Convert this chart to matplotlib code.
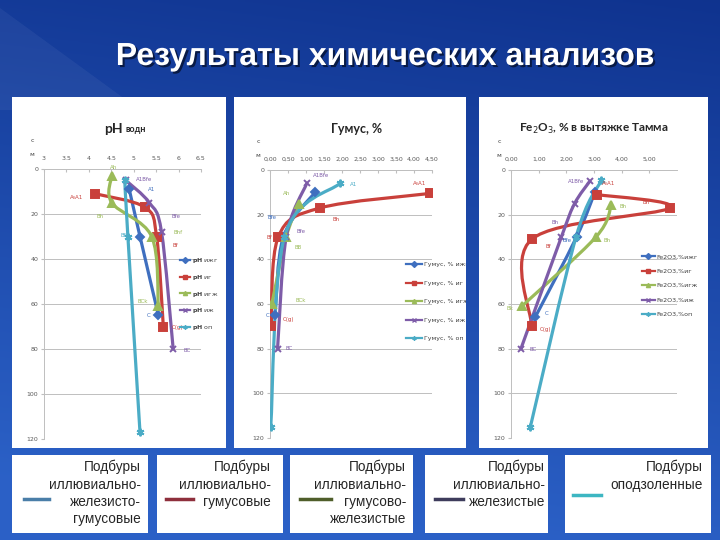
import numpy as np
import matplotlib.pyplot as plt
import matplotlib.patheffects as pe
from matplotlib.path import Path
from matplotlib.patches import PathPatch, Rectangle, Polygon
from matplotlib.lines import Line2D

# --- data (depth, cm; value) ---
soil_codes = ["ижг", "иг", "игж", "иж", "оп"]
soil_names = ["Подбуры\nиллювиально-\nжелезисто-\nгумусовые",
              "Подбуры\nиллювиально-\nгумусовые",
              "Подбуры\nиллювиально-\nгумусово-\nжелезистые",
              "Подбуры\nиллювиально-\nжелезистые",
              "Подбуры\nоподзоленные"]

# pH водн
ph_depth = [[9, 30, 65], [11, 17, 30, 70], [3, 15, 30, 61], [5, 15, 28, 80], [5, 30, 117]]
ph_vals = [[4.9, 5.14, 5.55], [4.14, 5.25, 5.51, 5.66], [4.51, 4.51, 5.40, 5.55],
           [4.82, 5.35, 5.62, 5.88], [4.80, 4.87, 5.14]]

# Гумус, %
hum_depth = [[10, 30, 65], [10.5, 17, 30, 70], [15, 30, 60], [6, 30, 80], [6, 30, 115]]
hum_vals = [[1.25, 0.37, 0.14], [4.44, 1.39, 0.23, 0.03], [0.8, 0.45, 0.05],
            [1.02, 0.45, 0.21], [1.94, 0.40, 0.02]]

# Fe2O3, % в вытяжке Тамма
fe_depth = [[10, 30, 66], [11, 17, 31, 70], [15.6, 30, 61], [5, 15, 30, 80], [4.5, 30, 115]]
fe_vals = [[3.03, 2.37, 0.87], [3.12, 5.74, 0.75, 0.75], [3.63, 3.07, 0.39],
           [2.85, 2.30, 1.82, 0.36], [3.27, 2.35, 0.70]]

# horizon labels: (series, point, text, dx px, dy px, ha)
ph_labels = [(0, 0, "A1", 19, 0, "left"), (3, 0, "A1Bfe", 10, 1, "left"),
             (2, 0, "Ah", 2, 8, "center"), (1, 0, "A₀A1", -12, -4, "right"),
             (2, 1, "Bh", -12, -14, "center"), (3, 2, "Bfe", 10, 15, "left"),
             (2, 2, "Bhf", 22, 4, "left"), (4, 1, "Bfe", -3, 1, "center"),
             (1, 2, "Bf", 16, -9, "left"), (2, 3, "BCk", -10, 5, "right"),
             (0, 2, "C", -8, 0, "right"), (1, 3, "C(g)", 8, -1, "left"),
             (3, 3, "BC", 10, -1, "left")]
hum_labels = [(1, 0, "A₀A1", -10, 10, "center"), (4, 0, "A1", 10, -1, "left"),
              (3, 0, "A1Bfe", 6, 8, "left"), (2, 0, "Ah", -12, 10, "center"),
              (1, 1, "Bh", 12, -12, "left"), (0, 1, "Bfe", -16, 20, "left"),
              (1, 2, "Bf", -6, 0, "right"), (3, 1, "Bfe", 10, 6, "left"),
              (2, 1, "BB", 8, -10, "left"), (2, 2, "BCk", 24, 4, "left"),
              (0, 2, "C", -6, 0, "right"), (1, 3, "C(g)", 12, 7, "left"),
              (3, 2, "BC", 8, 0, "left")]
fe_labels = [(3, 0, "A1Bfe", -6, 0, "right"), (1, 0, "A₀A1", 5, 11, "left"),
             (1, 1, "Bh", -24, 5, "center"), (2, 0, "Bh", 8, -2, "left"),
             (3, 1, "Bh", -20, -19, "center"), (0, 1, "Bfe", -5, -3, "right"),
             (1, 2, "Bf", 14, -7, "left"), (2, 1, "Bh", 8, -3, "left"),
             (2, 2, "Bk", -8, -2, "right"), (0, 2, "C", 10, 4, "left"),
             (1, 3, "C(g)", 8, -3, "left"), (3, 3, "BC", 9, -1, "left")]

colors = ["#3F6FBF", "#C9403B", "#9BBB59", "#7E5CA8", "#4BACC6"]
markers = ["D", "s", "^", "x", (6, 2, 0)]
msizes = [4.5, 6, 6, 5, 5.5]
box_line_colors = ["#4A7EA8", "#8E2F3C", "#4F5E2A", "#3E3C5C", "#3DB6C2"]

W, H = 720, 540
fig = plt.figure(figsize=(7.2, 5.4), dpi=100)


def frac(x0, y0, x1, y1):
    return [x0 / W, 1 - y1 / H, (x1 - x0) / W, (y1 - y0) / H]


# background: dark navy at the top, brighter blue lower down
bg = fig.add_axes([0, 0, 1, 1], zorder=-10)
gy, gx = np.mgrid[0:1:200j, 0:1:200j]
top = np.array([0.06, 0.20, 0.56])
bot = np.array([0.17, 0.38, 0.78])
t = np.clip((0.85 * gy + 0.15 * (1 - gx)) * 1.1, 0, 1)[..., None]
bg.imshow(top * (1 - t) + bot * t, aspect="auto", extent=[0, W, H, 0])
bg.add_patch(Polygon([(0, 8), (0, 110), (140, 110)], closed=True, facecolor="white",
                     alpha=0.05, edgecolor="none"))
bg.set_xlim(0, W); bg.set_ylim(H, 0)
bg.axis("off")

fig.text(386 / W, 1 - 57 / H, "Результаты химических анализов", color="white",
         fontsize=23, fontweight="bold", family="Liberation Sans", ha="center", va="center",
         path_effects=[pe.withSimplePatchShadow(offset=(1.5, -1.5), shadow_rgbFace="#061230", alpha=0.8)])


def smooth_path(xs, ys):
    pts = np.column_stack([xs, ys]).astype(float)
    n = len(pts)
    verts, codes = [pts[0]], [Path.MOVETO]
    for i in range(n - 1):
        p0 = pts[i - 1] if i > 0 else pts[i]
        p1, p2 = pts[i], pts[i + 1]
        p3 = pts[i + 2] if i + 2 < n else pts[i + 1]
        verts += [p1 + (p2 - p0) / 6, p2 - (p3 - p1) / 6, p2]
        codes += [Path.CURVE4] * 3
    return Path(verts, codes)


def draw_panel(panel_box, ax_box, depths, vals, xlim, xticks, xticklabels, labels,
               legend_names, leg_pos, leg_spacing, leg_handlelen):
    panel = fig.add_axes(frac(*panel_box))
    panel.set_facecolor("white")
    panel.set_xticks([]); panel.set_yticks([])
    for s in panel.spines.values():
        s.set_visible(False)

    ax = fig.add_axes(frac(*ax_box))
    ax.set_facecolor("none")
    ax.set_xlim(*xlim)
    ax.set_ylim(120, 0)
    ax.set_yticks(range(0, 121, 20))
    ax.xaxis.tick_top()
    ax.set_xticks(xticks)
    ax.set_xticklabels(xticklabels)
    ax.tick_params(axis="x", direction="in", length=2, pad=6, labelsize=4.5,
                   labelcolor="#595959", color="#BFBFBF")
    ax.tick_params(axis="y", direction="out", length=2, pad=2, labelsize=4.5,
                   labelcolor="#595959", color="#BFBFBF")
    ax.grid(axis="y", color="#BFBFBF", lw=0.7)
    for side in ["right", "bottom"]:
        ax.spines[side].set_visible(False)
    for side in ["left", "top"]:
        ax.spines[side].set_color("#BFBFBF")
        ax.spines[side].set_linewidth(0.7)

    for i in range(len(depths)):
        ax.add_patch(PathPatch(smooth_path(vals[i], depths[i]), fill=False,
                               edgecolor=colors[i], lw=2.3, zorder=3 + i * 0.1))
        ax.plot(vals[i], depths[i], ls="none", marker=markers[i], ms=msizes[i],
                color=colors[i], mew=1.4, zorder=4 + i * 0.1)

    for si, pi, txt, dx, dy, ha in labels:
        ax.annotate(txt, (vals[si][pi], depths[si][pi]), xytext=(dx, dy),
                    textcoords="offset pixels", ha=ha, va="center", fontsize=4,
                    color=colors[si], zorder=6)

    # "см" axis title fragments
    fig.text((ax_box[0] - 13) / W, 1 - (ax_box[1] - 27) / H, "с", fontsize=4.5, color="#404040")
    fig.text((ax_box[0] - 15) / W, 1 - (ax_box[1] - 13) / H, "м", fontsize=4.5, color="#404040")

    handles = [Line2D([], [], color=colors[i], lw=1.6, marker=markers[i], ms=3, mew=1)
               for i in range(len(depths))]
    leg = ax.legend(handles, legend_names, loc="upper left",
                    bbox_to_anchor=(leg_pos[0] / W, 1 - leg_pos[1] / H),
                    bbox_transform=fig.transFigure, frameon=False, fontsize=4.5,
                    labelspacing=leg_spacing, handlelength=leg_handlelen,
                    handletextpad=0.3, borderpad=0, borderaxespad=0)
    leg.set_zorder(7)
    for txt in leg.get_texts():
        txt.set_color("#404040")
        txt.set_clip_path(panel.patch)
    return ax


# pH
ax1 = draw_panel((12, 97, 226, 448), (44, 169, 201, 439), ph_depth, ph_vals, (3, 6.5),
                 [3, 3.5, 4, 4.5, 5, 5.5, 6, 6.5],
                 ["3", "3.5", "4", "4.5", "5", "5.5", "6", "6.5"], ph_labels,
                 [r"$\mathbf{pH}$ " + c for c in soil_codes], (180, 256), 1.25, 1.6)
fig.text(123 / W, 1 - 129 / H, "pH", fontsize=10, fontweight="bold", family="Lato",
         ha="right", va="center", color="#262626")
fig.text(125 / W, 1 - 130 / H, "водн", fontsize=6.5, fontweight="bold", family="Lato",
         ha="left", va="center", color="#262626")

# Гумус
ax2 = draw_panel((234, 97, 466, 448), (270, 170, 432, 438), hum_depth, hum_vals, (0, 4.5),
                 np.arange(0, 4.51, 0.5), [f"{v:.2f}".replace(".", ",") for v in np.arange(0, 4.51, 0.5)],
                 hum_labels, ["Гумус, % " + c for c in soil_codes], (406, 262), 2.1, 2.5)
fig.text(357 / W, 1 - 129 / H, "Гумус, %", fontsize=9, fontweight="bold", family="Lato",
         ha="center", va="center", color="#262626")

# Fe2O3
ax3 = draw_panel((479, 97, 708, 448), (511, 170, 677, 438), fe_depth, fe_vals, (0, 6),
                 [0, 1, 2, 3, 4, 5], [f"{v:.2f}".replace(".", ",") for v in range(6)],
                 fe_labels, ["Fe2O3,%" + c for c in soil_codes], (642, 254), 1.45, 2.0)
fig.text(594 / W, 1 - 129 / H, r"Fe$_2$O$_3$, % в вытяжке Тамма", fontsize=8.5,
         fontweight="bold", family="Lato", ha="center", va="center", color="#262626")

# bottom legend boxes
boxes = [(12, 148), (157, 283), (290, 413), (425, 548), (565, 711)]
text_right = [141, 271, 406, 545, 703]
line_pos = [(24, 49, 499), (166, 193, 499), (300, 331, 499), (435, 463, 499), (573, 601, 495)]
for i in range(5):
    x0, x1 = boxes[i]
    fig.patches.append(Rectangle((x0 / W, 1 - 533 / H), (x1 - x0) / W, 78 / H,
                                 transform=fig.transFigure, facecolor="white",
                                 edgecolor="none", zorder=1))
    fig.text(text_right[i] / W, 1 - 460 / H, soil_names[i], ha="right", va="top",
             fontsize=9.8, family="Liberation Sans", color="#262626", linespacing=1.3)
    lx0, lx1, ly = line_pos[i]
    fig.lines.append(Line2D([lx0 / W, lx1 / W], [1 - ly / H, 1 - ly / H],
                            transform=fig.transFigure, color=box_line_colors[i], lw=2.5))

fig.savefig("out.png", dpi=100)
